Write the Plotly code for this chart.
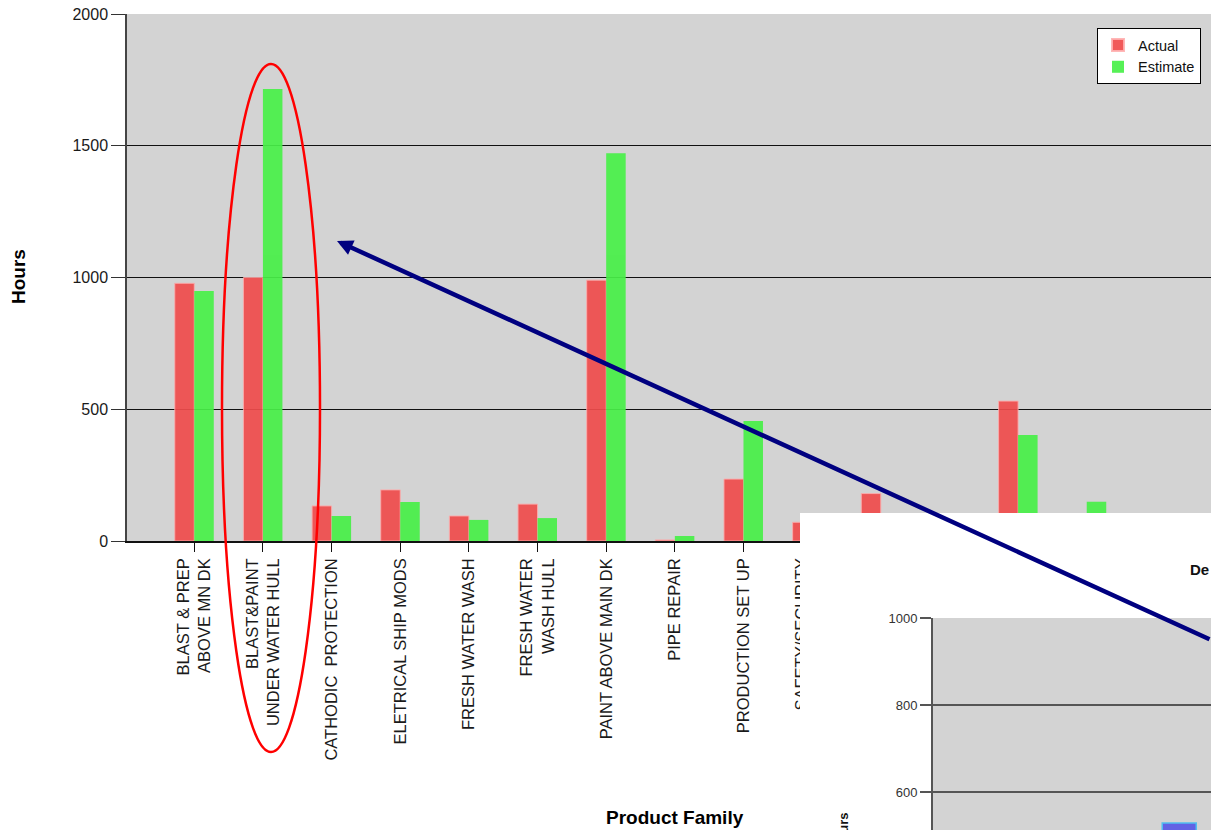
import plotly.graph_objects as go

W, H = 1211, 830

# ---- main chart data: hours per product family ----
categories = [
    "BLAST & PREP<br>ABOVE MN DK",
    "BLAST&PAINT<br>UNDER WATER HULL",
    "CATHODIC\u00a0 PROTECTION",
    "ELETRICAL SHIP MODS",
    "FRESH WATER WASH",
    "FRESH WATER<br>WASH HULL",
    "PAINT ABOVE MAIN DK",
    "PIPE REPAIR",
    "PRODUCTION SET UP",
    "SAFETY/SECURITY<br>SERVICES",
    "STAGING",
    "STEEL REPAIR",
    "STRUCTURAL MODS",
    "TANK CLEANING",
    "VALVE REPAIR",
]
actual_hours = [978, 1000, 133, 194, 95, 140, 990, 4, 235, 71, 180, 40, 531, 60, 30]
estimate_hours = [949, 1715, 95, 148, 80, 87, 1472, 19, 455, 55, 70, 35, 402, 149, 45]
hour_ticks = [0, 500, 1000, 1500, 2000]

# ---- detail chart data (small chart in the lower right corner) ----
detail_categories = ["Actual"]
detail_hours = [529]
detail_ticks = [600, 800, 1000]


def px(x):
    return x / W


def py(y):
    return 1 - y / H


FONT = "Liberation Sans, Arial, sans-serif"
GREY_BG = "#d3d3d3"

fig = go.Figure()

fig.add_trace(go.Bar(
    name="Actual", x=categories, y=actual_hours,
    marker=dict(color="rgb(240,76,76)", line=dict(color="rgba(255,170,170,0.9)", width=1)),
    opacity=0.92, xaxis="x", yaxis="y",
))
fig.add_trace(go.Bar(
    name="Estimate", x=categories, y=estimate_hours,
    marker=dict(color="rgb(72,240,72)", line=dict(width=0)),
    opacity=0.92, xaxis="x", yaxis="y",
))

# white panel that sits over the lower right of the main chart
fig.add_trace(go.Scatter(x=[], y=[], xaxis="x2", yaxis="y2",
                         showlegend=False, hoverinfo="skip"))

# detail chart bar
fig.add_trace(go.Bar(
    x=detail_categories, y=detail_hours, xaxis="x3", yaxis="y3",
    marker=dict(color="rgb(98,98,228)", line=dict(color="rgb(80,190,240)", width=1.5)),
    showlegend=False,
))

fig.update_layout(
    width=W, height=H,
    margin=dict(l=0, r=0, t=0, b=0, autoexpand=False),
    paper_bgcolor="white", plot_bgcolor="white",
    barmode="group", bargap=0.432, bargroupgap=0,
    font=dict(family=FONT, color="#1a1a1a"),
    showlegend=True,
    legend=dict(
        x=px(1097), y=py(28), xanchor="left", yanchor="top",
        bgcolor="white", bordercolor="black", borderwidth=1,
        font=dict(family=FONT, size=14.5, color="#111"),
        tracegroupgap=0, itemsizing="constant", itemwidth=30,
    ),
    xaxis=dict(
        domain=[px(127), 1], anchor="y", type="category", automargin=False,
        range=[-0.98, 14.81],
        tickangle=-90, tickfont=dict(size=16.5, color="#1a1a1a"),
        ticks="outside", ticklen=9, tickcolor="#111", tickwidth=1,
        showline=True, linecolor="#111", linewidth=1.5,
        showgrid=False, zeroline=False,
    ),
    yaxis=dict(
        domain=[py(541), py(14)], anchor="x", automargin=False,
        range=[0, 2000], tickvals=hour_ticks,
        tickfont=dict(size=16, color="#1a1a1a"),
        ticks="outside", ticklen=14, tickcolor="#333", tickwidth=1,
        showline=True, linecolor="#444", linewidth=1.5,
        showgrid=True, gridcolor="#111", gridwidth=1,
        zeroline=False,
    ),
    xaxis2=dict(domain=[px(800), 1], anchor="y2", visible=False, range=[0, 1],
                automargin=False),
    yaxis2=dict(domain=[0, py(513)], anchor="x2", visible=False, range=[0, 1],
                automargin=False),
    xaxis3=dict(domain=[px(933), 1], anchor="y3", type="category",
                range=[-4.11, 0.53], visible=False, automargin=False),
    yaxis3=dict(
        domain=[0, py(618)], anchor="x3", automargin=False,
        range=[513, 1000], tickvals=detail_ticks,
        tickfont=dict(size=13, color="#333"),
        ticks="outside", ticklen=11, tickcolor="#555", tickwidth=1.5,
        showline=True, linecolor="#555", linewidth=2,
        showgrid=True, gridcolor="#555", gridwidth=1.5,
        zeroline=False,
    ),
)

fig.update_layout(shapes=[
    # grey plot area of the main chart
    dict(type="rect", xref="paper", yref="paper", layer="below",
         x0=px(127), x1=1, y0=py(541), y1=py(14),
         fillcolor=GREY_BG, line=dict(width=0)),
    # grey plot area of the detail chart
    dict(type="rect", xref="x3", yref="y3", layer="below",
         x0=-10, x1=10, y0=0, y1=1000,
         fillcolor=GREY_BG, line=dict(width=0)),
    # red ellipse around the under water hull pair
    dict(type="circle", xref="paper", yref="paper", layer="above",
         x0=px(222), x1=px(320), y0=py(752), y1=py(64),
         line=dict(color="#ff0000", width=2.5)),
])

fig.update_layout(annotations=[
    dict(text="<b>Hours</b>", xref="paper", yref="paper",
         x=px(18), y=py(277), xanchor="center", yanchor="middle",
         textangle=-90, showarrow=False,
         font=dict(family=FONT, size=19, color="#000")),
    dict(text="<b>Product Family</b>", xref="paper", yref="paper",
         x=px(675), y=py(817), xanchor="center", yanchor="middle",
         showarrow=False,
         font=dict(family=FONT, size=19, color="#000")),
    dict(text="<b>De</b>", xref="paper", yref="paper",
         x=px(1188), y=py(569), xanchor="left", yanchor="middle", showarrow=False,
         font=dict(family=FONT, size=15, color="#111")),
    dict(text="<b>Hours</b>", xref="paper", yref="paper",
         x=px(844), y=py(831), xanchor="center", yanchor="middle",
         textangle=-90, showarrow=False,
         font=dict(family=FONT, size=13, color="#111")),
    # navy arrow pointing at the circled pair
    dict(text="", xref="paper", yref="paper",
         x=px(337), y=py(241), ax=903, ay=399,
         showarrow=True, arrowhead=2, arrowsize=0.7, arrowwidth=4.5,
         arrowcolor="#000080", standoff=0, startstandoff=0),
])

fig.write_html("out.html")
